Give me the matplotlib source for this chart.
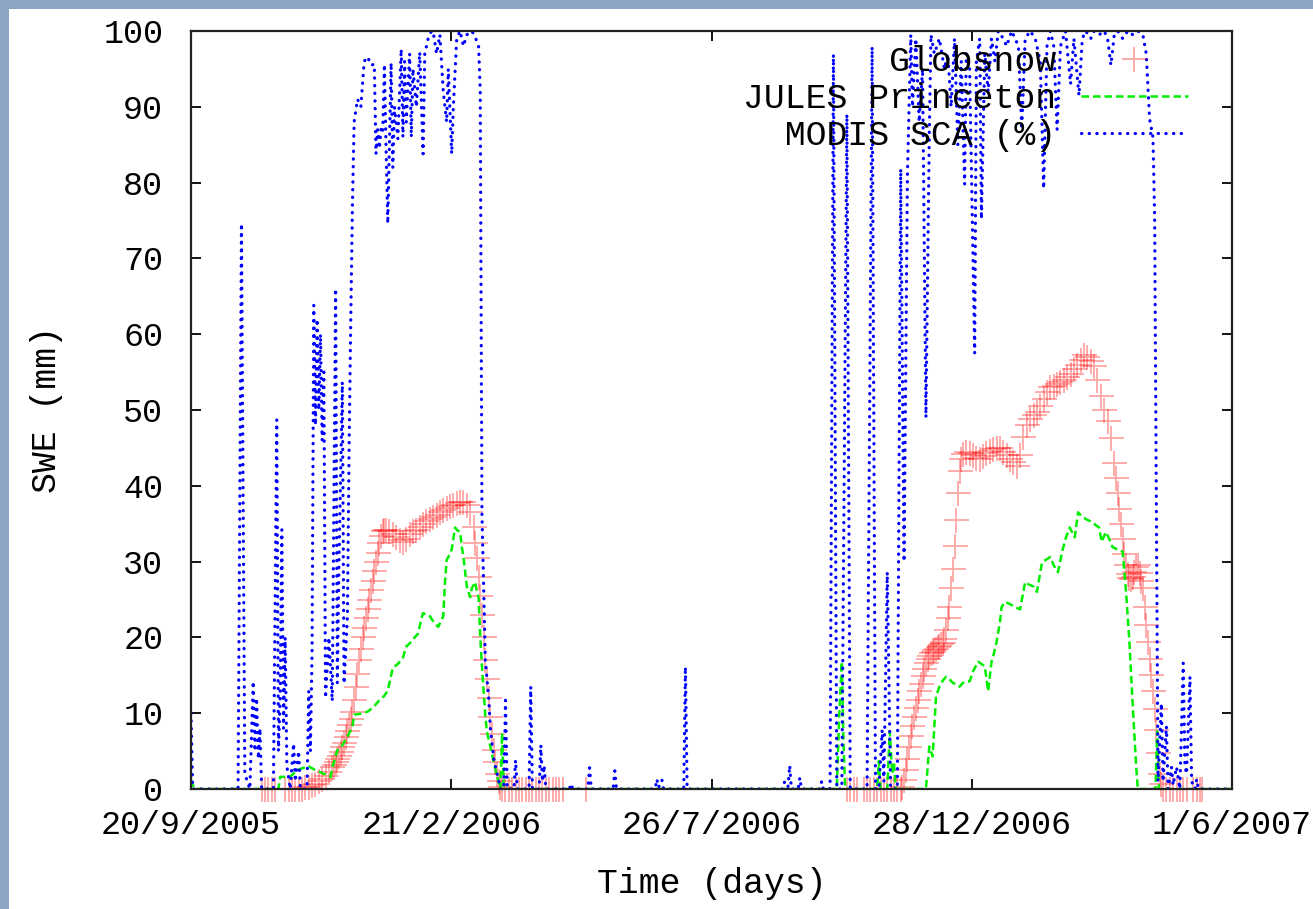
import numpy as np
import matplotlib
matplotlib.use("Agg")
import matplotlib.pyplot as plt
from matplotlib.patches import Rectangle

# ---- data (x = days since 20/9/2005) ----
tick_labels = ["20/9/2005", "21/2/2006", "26/7/2006", "28/12/2006", "1/6/2007"]
total_days = 619

glob_days = [42, 44, 46, 48, 50, 56, 58, 60, 62, 64, 66, 68, 70, 72, 74, 76, 78, 80, 82,
             84, 85, 86, 87, 88, 89, 90, 91, 92, 93, 94, 95, 96, 97, 98, 99, 100, 101, 102,
             103, 104, 105, 106, 107, 108, 109, 110, 111, 112, 113, 114, 115, 116, 118, 120,
             122, 124, 126, 128, 130, 132, 134, 136, 138, 140, 142, 144, 146, 148, 150, 152,
             154, 156, 158, 160, 162, 164, 166, 168, 169, 170, 171, 172, 173, 174, 175, 176,
             177, 178, 179, 180, 181, 182, 183, 184, 185, 187, 189, 191, 193, 195, 197, 199,
             201, 203, 205, 207, 209, 211, 213, 215, 217, 219, 221, 235,
             390, 392, 394, 396, 400, 402, 404, 406, 408, 410, 412, 414, 416, 418, 420, 422,
             423, 424, 425, 426, 427, 428, 429, 430, 431, 432, 433, 434, 435, 436, 437, 438,
             439, 440, 441, 442, 443, 444, 445, 446, 447, 448, 449, 450, 451, 452, 453, 454,
             455, 456, 457, 458, 459, 461, 463, 465, 467, 469, 471, 473, 475, 477, 479, 481,
             483, 485, 487, 489, 491, 493, 495, 497, 499, 501, 503, 505, 507, 509, 511, 513,
             515, 517, 519, 521, 523, 525, 527, 529, 531, 533, 535, 537, 539, 541, 543, 545,
             547, 549, 550, 551, 552, 553, 554, 555, 556, 557, 558, 559, 560, 561, 562, 563,
             564, 565, 566, 567, 568, 569, 570, 571, 572, 573, 574, 575, 576, 577, 578, 580,
             582, 584, 586, 588, 590, 592, 596, 598, 600, 601]
glob_swe = [0, 0, 0, 0, 0, 0, 0, 0, 0, 0, 0, 0.2, 0.3, 0.5, 0.7, 1.0, 1.3, 1.7, 2.2,
            2.9, 3.2, 3.5, 3.9, 4.3, 4.9, 5.5, 6.1, 6.8, 7.6, 8.4, 9.3, 10.2, 11.8, 13.5, 15.2, 17, 18.5, 20,
            21.2, 22.5, 23.8, 25, 26.2, 27.5, 28.8, 30, 31.2, 32.5, 33.4, 34, 34.2, 34.2, 34, 33.6,
            33.2, 32.8, 32.6, 33, 33.6, 34, 34.2, 34.6, 35, 35.3, 35.6, 35.9, 36.2, 36.5, 36.8, 37.1,
            37.3, 37.5, 37.7, 37.8, 37.9, 37.5, 36.5, 34.5, 32.5, 30.5, 28, 25.5, 23, 20, 17, 14.5,
            12, 9.5, 7.2, 5.2, 3.5, 2, 1, 0.3, 0, 0, 0, 0, 0, 0, 0, 0,
            0, 0, 0, 0, 0, 0, 0, 0, 0, 0, 0, 0,
            0, 0, 0, 0, 0, 0, 0, 0, 0, 0, 0, 0, 0, 0, 0, 0,
            0.3, 1.2, 2.5, 4, 5.5, 7, 8.3, 9.5, 10.7, 11.8, 12.9, 13.9, 14.9, 15.8, 16.6, 17.2,
            17.6, 17.9, 18.1, 18.3, 18.5, 18.7, 18.9, 19.1, 19.3, 19.8, 21, 22.5, 24, 26.5, 29, 32,
            35.5, 39, 42, 43.5, 44.2, 44.4, 44.3, 44, 43.7, 43.6, 43.9, 44.3, 44.6, 44.8, 45, 45,
            44.5, 44, 43.6, 43.2, 42.6, 44, 46.5, 48, 48.8, 49.3, 49.7, 50.5, 51.5, 52.4, 53, 53.2,
            53.4, 53.7, 54, 54.3, 54.8, 55.4, 56, 56.6, 57.2, 57, 56.4, 55.8, 54, 51.8, 50, 48.5,
            46.3, 43, 41, 39, 37, 35, 33, 31, 29.5, 28.3, 27.8, 27.7, 28, 28.6, 29.3, 29.6,
            28.5, 27.5, 26.5, 24, 21.7, 19.4, 17.2, 15, 12.9, 10.5, 7.8, 4.8, 2, 0.7, 0, 0,
            0, 0, 0, 0, 0, 0, 0, 0, 0, 0]

jules_days = [0, 2, 52, 53, 59, 63, 67, 70, 73, 77, 80, 83, 84, 87, 90, 93, 96, 97, 100,
              102, 105, 108, 110, 112, 115, 117, 120, 123, 126, 128, 130, 133, 135, 137, 138,
              140, 142, 145, 147, 150, 151, 152, 154, 155, 156, 157, 158, 160, 161, 162, 164,
              166, 167, 169, 170, 171, 172, 173, 175, 176, 178, 180, 182, 184, 185, 186,
              384, 385.5, 387, 388, 389, 408, 409, 410, 414, 415.5, 417, 418, 419, 437, 439,
              441, 443, 445, 447, 449, 451, 453, 455, 457, 459, 461, 463, 465, 468, 470, 472,
              474, 476, 477, 479, 481, 482, 484, 487, 490, 493, 496, 498, 501, 503, 506, 508,
              511, 513, 515.5, 518, 520, 522.5, 525.5, 527.5, 530, 533, 536, 538, 540, 541.5,
              544, 546, 548, 551, 554, 556, 558, 560, 562, 563, 573.5, 574.5, 575.5, 619]
jules_swe = [1.2, 0, 0, 1.6, 1.6, 2.5, 2.8, 3, 2.6, 2.2, 1.9, 1.6, 2.8, 5.1, 5.8, 6.9, 8.2, 9.8, 9.9,
             10, 10.2, 10.7, 11.2, 11.7, 12.3, 13, 16, 16.5, 17.3, 18.8, 19.2, 20, 20.5, 22.5, 23.2,
             23, 22.8, 21.8, 21.4, 22.8, 27.2, 30.2, 31, 31.6, 33, 34.5, 34.2, 33.9, 32, 30.6, 26.7,
             25.3, 26.5, 27.3, 26, 25.3, 20, 16.2, 9.6, 7.5, 5.6, 3.5, 1.7, 0, 7.4, 0,
             0, 10, 16.8, 6, 0, 0, 3.7, 0, 0, 7.6, 2, 3.5, 0, 0, 5.6,
             4.3, 12.2, 13.5, 14.3, 14.8, 14.5, 14, 13.8, 13.5, 14, 14.2, 14.2, 15.5, 16.8, 16.5, 16.2,
             12.9, 16.8, 17.5, 19.4, 22, 24, 24.7, 24.4, 24, 23.7, 27.3, 27, 26.7, 26, 29.9, 30.2,
             30.6, 29.5, 28.6, 31.3, 33, 34.5, 33.2, 36.5, 35.9, 35.5, 35.2, 34.8, 34.5, 32.6,
             33.9, 33, 31.9, 31.6, 31.3, 26, 19.4, 10.9, 3, 0, 0, 7.6, 0, 0]

modis_days = [0, 1, 28, 30, 32, 35, 37, 38, 39, 40, 41, 42, 49, 51, 52, 53, 54, 55, 56, 57,
              59, 61, 62, 64, 65, 69, 70, 71, 72, 73, 74, 75, 76, 77, 78, 79, 80, 82, 84, 86,
              87, 88, 90, 91, 93, 94, 95, 96, 97, 99, 101, 103, 105, 107, 109, 110, 111, 112,
              113, 114, 115, 116, 117, 119, 120, 121, 123, 125, 126, 127, 128, 130, 131, 132,
              134, 136, 138, 139, 141, 143, 144, 146, 148, 150, 152, 153, 155, 156, 158, 160,
              162, 164, 167, 169, 171, 172, 173, 175, 177, 178, 180, 182, 184, 186, 187, 188,
              192, 193, 194, 201, 202, 203, 207, 208, 209, 210, 211, 225, 226, 227, 236, 237,
              238, 251, 252, 253, 276, 277, 278, 280, 281, 293, 294, 295, 352, 353, 355, 356,
              357, 361, 362, 363, 374, 375, 376, 380, 382, 384, 387, 390, 392, 402, 405, 407,
              409, 411, 412, 414, 416, 420, 422, 424, 426, 428, 429, 431, 433, 435, 437, 439,
              440, 442, 445, 448, 450, 452, 454, 456, 458, 460, 461, 463, 466, 467, 469, 470,
              472, 474, 476, 478, 480, 483, 485, 488, 490, 492, 494, 496, 499, 502, 505, 507,
              509, 511, 513, 515, 517, 520, 523, 525, 528, 530, 532, 535, 537, 540, 543, 545,
              547, 549, 551, 554, 557, 560, 563, 566, 568, 570, 572, 573, 575, 577, 578, 580,
              581, 583, 584, 586, 588, 590, 591, 592, 594, 595, 597, 598, 599, 619]
modis_sca = [10, 0, 0, 74.6, 2, 0, 14.2, 5, 12, 4, 8, 0, 0, 48.7, 5, 12, 34.2, 8, 20, 3,
             0, 6, 1, 5, 0, 0, 12.9, 5, 18.3, 63.8, 48, 62, 50, 60, 46, 55, 12, 20, 11.6, 66,
             14, 30, 53.7, 13.9, 22.7, 45, 62, 77, 88, 91, 90, 96, 96.6, 95.5, 95.6, 83.8, 87, 84.5,
             87, 86.5, 95.6, 84.4, 74.6, 95.8, 82, 90, 85.8, 97.6, 86, 96, 88, 97, 86, 95,
             90, 97.2, 83.8, 97, 99, 100, 99.9, 97, 99.5, 92, 88, 95, 83.8, 90, 99, 100,
             98, 99.5, 100, 99.2, 98, 92, 36.5, 17, 12, 8, 4, 2, 0, 0, 11.7, 0,
             0, 3.8, 0, 0, 13.5, 0, 0, 5.8, 1, 3.1, 0, 0, 0.7, 0, 0, 2.8,
             0, 0, 2.4, 0, 0, 1.3, 0.2, 1.2, 0, 0, 16.1, 0, 0, 1, 0.3, 3.1,
             0, 0, 1.5, 0, 0, 1, 0, 0, 96.9, 0, 0, 89, 0, 0, 97.9, 0,
             0, 7.8, 1, 28.6, 0, 0, 81.8, 30, 81, 99.5, 90, 99, 88, 95, 49, 86.4,
             99.5, 97, 99, 95, 97, 90, 99, 85, 96, 79.8, 97, 95, 57.5, 96, 99, 75.2,
             97, 92, 99, 96, 100, 99, 98, 100, 99, 98, 87, 99, 100, 99, 96, 79.2,
             98, 100, 98, 87, 98, 100, 93, 99, 91.5, 99, 100, 99, 100, 99.5, 100, 99,
             95.5, 99.5, 100, 99, 100, 99.5, 100, 99.5, 97, 88.4, 86, 75.5, 1, 11.3, 1, 8.3,
             0, 2.9, 0.5, 2.9, 0, 16.6, 3, 2, 14.8, 1, 0, 1.3, 0, 0]

# ---- figure ----
plt.rcParams["font.family"] = ["Liberation Mono", "DejaVu Sans Mono"]

fig = plt.figure(figsize=(13.13, 9.09), dpi=100, facecolor="#8da4c5")
fig.patches.append(Rectangle((9 / 1313, 0), 1, 1 - 9 / 909, transform=fig.transFigure,
                             facecolor="white", edgecolor="none", zorder=-5))

ax = fig.add_axes([191 / 1313, 1 - 789 / 909, (1232 - 191) / 1313, (789 - 31) / 909])
ax.set_zorder(1)
ax.set_facecolor("white")

ax.plot(glob_days, glob_swe, linestyle="none", marker="+", markersize=18, mew=1.3,
        color="#ff0000", alpha=0.35, clip_on=False, label="       Globsnow")
ax.plot(jules_days, jules_swe, color="#00ee00", lw=1.8, linestyle=(0, (3, 1.6)),
        label="JULES Princeton")
ax.plot(modis_days, modis_sca, color="#0000ff", lw=2.3, linestyle=(0, (0.1, 2.3)),
        dash_capstyle="round", label="  MODIS SCA (%)")

ax.set_xlim(0, total_days)
ax.set_ylim(0, 100)
ax.set_xticks(np.linspace(0, total_days, 5))
ax.set_xticklabels(tick_labels)
ax.set_yticks(np.arange(0, 101, 10))

ax.tick_params(direction="in", length=7, width=1.3, top=True, right=True,
               labelsize=24, colors="black")
ax.tick_params(axis="y", pad=20)
ax.tick_params(axis="x", pad=15)
for s in ax.spines.values():
    s.set_linewidth(1.6)
    s.set_color("#222222")

ax.set_xlabel("Time (days)", fontsize=25, labelpad=19)
ax.set_ylabel("SWE (mm)", fontsize=25, labelpad=29)

leg = ax.legend(loc="upper right", bbox_to_anchor=(0.958, 0.981), frameon=False,
                markerfirst=False, handlelength=3.1, handletextpad=0.7,
                labelspacing=0.115, borderpad=0, borderaxespad=0, numpoints=1,
                prop={"size": 25})

fig.savefig("out.png", dpi=100, facecolor=fig.get_facecolor())
